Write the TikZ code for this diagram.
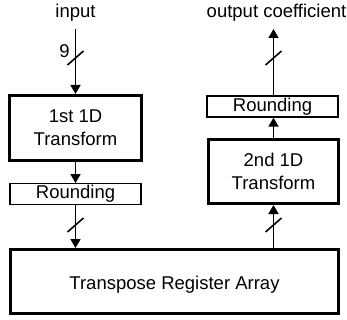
\documentclass[tikz,border=0pt]{standalone}
\usepackage{fontspec}
\setmainfont{Liberation Sans}
\usetikzlibrary{arrows.meta}
\begin{document}
\begin{tikzpicture}[x=1pt,y=-1pt,
  every node/.style={font=\fontsize{18.5}{23.3}\selectfont},
  thickbox/.style={draw, line width=3pt, inner sep=0pt, align=center},
  thinbox/.style={draw, line width=1.4pt, inner sep=0pt},
  conn/.style={line width=1.6pt, -{Triangle[length=9pt,width=10pt]}},
  slashmark/.style={line width=1.6pt}]
\useasboundingbox (0,0) rectangle (347,320);
% labels
\node[anchor=base, inner sep=0pt] (input) at (75.5,18) {input};
\node[anchor=base, inner sep=0pt] (output) at (276.5,18) {output coefficient};
\node[inner sep=0pt] (nine) at (64.5,51) {9};
% boxes
\node[thickbox, minimum width=132pt, minimum height=65pt] (t1) at (75.5,128) {1st 1D\\Transform};
\node[thinbox, minimum width=131pt, minimum height=20.5pt] (r1) at (75.5,194) {Rounding};
\node[thickbox, minimum width=328pt, minimum height=64pt, text height=16pt, text depth=0pt] (tra) at (174.5,281.5) {Transpose Register Array};
\node[thickbox, minimum width=130pt, minimum height=64pt] (t2) at (273.5,171.5) {2nd 1D\\Transform};
\node[thinbox, minimum width=131pt, minimum height=21pt] (r2) at (272.5,106.5) {Rounding};
% connector ends
\coordinate (inend) at (75.5,29);
\coordinate (outend) at (273.5,29);
% connectors
\draw[conn] (inend) -- (t1.north);
\draw[conn] (t1.south) -- (r1.north -| t1.south);
\draw[conn] (r1.south -| t1.south) -- (tra.north -| t1.south);
\draw[conn] (tra.north -| t2.south) -- (t2.south);
\draw[conn] (t2.north) -- (r2.south -| t2.north);
\draw[conn] (r2.north -| t2.north) -- (outend);
% bus slashes
\draw[slashmark] (75.5,58) ++(-8,7) -- ++(16,-14);
\draw[slashmark] (75.5,225) ++(-8,7) -- ++(16,-14);
\draw[slashmark] (273.5,225) ++(-8,7) -- ++(16,-14);
\draw[slashmark] (273.5,58) ++(-8,7) -- ++(16,-14);
\end{tikzpicture}
\end{document}
